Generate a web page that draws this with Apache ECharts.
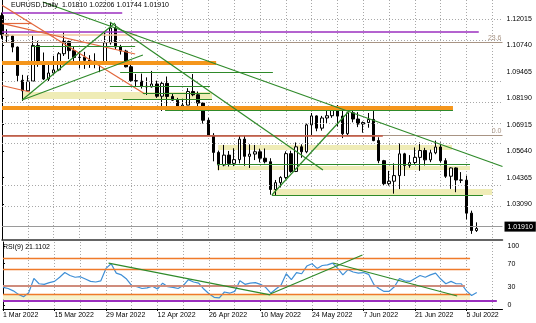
<!DOCTYPE html>
<html><head><meta charset="utf-8">
<script src="https://cdn.jsdelivr.net/npm/echarts@6/dist/echarts.min.js"></script>
<style>html,body{margin:0;padding:0;background:#fff}#c{width:536px;height:323px}</style>
</head><body><div id="c"></div>
<script>
// ---- categories (daily bars, EURUSD) ----
const dates = ['1 Mar 2022','2 Mar 2022','3 Mar 2022','4 Mar 2022','7 Mar 2022','8 Mar 2022','9 Mar 2022','10 Mar 2022','11 Mar 2022',
'14 Mar 2022','15 Mar 2022','16 Mar 2022','17 Mar 2022','18 Mar 2022','21 Mar 2022','22 Mar 2022','23 Mar 2022','24 Mar 2022','25 Mar 2022',
'28 Mar 2022','29 Mar 2022','30 Mar 2022','31 Mar 2022','1 Apr 2022','4 Apr 2022','5 Apr 2022','6 Apr 2022','7 Apr 2022','8 Apr 2022',
'11 Apr 2022','12 Apr 2022','13 Apr 2022','14 Apr 2022','15 Apr 2022','18 Apr 2022','19 Apr 2022','20 Apr 2022','21 Apr 2022','22 Apr 2022',
'25 Apr 2022','26 Apr 2022','27 Apr 2022','28 Apr 2022','29 Apr 2022','2 May 2022','3 May 2022','4 May 2022','5 May 2022','6 May 2022',
'9 May 2022','10 May 2022','11 May 2022','12 May 2022','13 May 2022','16 May 2022','17 May 2022','18 May 2022','19 May 2022','20 May 2022',
'23 May 2022','24 May 2022','25 May 2022','26 May 2022','27 May 2022','30 May 2022','31 May 2022','1 Jun 2022','2 Jun 2022','3 Jun 2022',
'6 Jun 2022','7 Jun 2022','8 Jun 2022','9 Jun 2022','10 Jun 2022','13 Jun 2022','14 Jun 2022','15 Jun 2022','16 Jun 2022','17 Jun 2022',
'20 Jun 2022','21 Jun 2022','22 Jun 2022','23 Jun 2022','24 Jun 2022','27 Jun 2022','28 Jun 2022','29 Jun 2022','30 Jun 2022','1 Jul 2022',
'4 Jul 2022','5 Jul 2022','6 Jul 2022','7 Jul 2022','8 Jul 2022','11 Jul 2022','12 Jul 2022','13 Jul 2022','14 Jul 2022'];

// ---- OHLC ----
const open = [1.1218,1.1126,1.1120,1.1066,1.0906,1.0855,1.0902,1.1074,1.0984,1.0912,1.0941,1.0956,1.1034,1.1093,1.1049,1.1016,1.1017,1.1002,1.0998,1.0982,
1.0985,1.1087,1.1158,1.1067,1.1047,1.0971,1.0904,1.0902,1.0877,1.0874,1.0888,1.0829,1.0891,1.0828,1.0810,1.0779,1.0786,1.0852,1.0836,1.0796,
1.0713,1.0640,1.0558,1.0497,1.0545,1.0505,1.0523,1.0622,1.0539,1.0550,1.0561,1.0530,1.0513,1.0379,1.0412,1.0437,1.0552,1.0466,1.0585,1.0561,
1.0691,1.0734,1.0675,1.0724,1.0735,1.0780,1.0733,1.0648,1.0749,1.0719,1.0695,1.0702,1.0717,1.0615,1.0518,1.0407,1.0419,1.0446,1.0551,1.0495,
1.0509,1.0534,1.0567,1.0522,1.0556,1.0584,1.0518,1.0443,1.0483,1.0425,1.0424,1.0265,1.01810];
const high = [1.1233,1.1152,1.1124,1.1069,1.0932,1.0929,1.1121,1.1096,1.1040,1.0991,1.1024,1.1042,1.1137,1.1094,1.1069,1.1045,1.1043,1.1027,1.1036,1.0998,
1.1137,1.1185,1.1176,1.1077,1.1053,1.0998,1.0936,1.0938,1.0920,1.0951,1.0904,1.0899,1.0924,1.0840,1.0821,1.0817,1.0868,1.0936,1.0852,1.0798,
1.0725,1.0651,1.0567,1.0594,1.0565,1.0578,1.0641,1.0642,1.0597,1.0594,1.0576,1.0577,1.0530,1.0425,1.0443,1.0563,1.0566,1.0606,1.0597,1.0697,
1.0748,1.0737,1.0734,1.0765,1.0787,1.0786,1.0766,1.0750,1.0764,1.0752,1.0707,1.0748,1.0774,1.0631,1.0522,1.0469,1.0505,1.0601,1.0556,1.0545,
1.0582,1.0606,1.0580,1.0571,1.0615,1.0606,1.0530,1.0486,1.0486,1.0463,1.0446,1.0277,1.02206];
const low = [1.1106,1.1087,1.1041,1.0900,1.0806,1.0850,1.0899,1.0971,1.0907,1.0902,1.0932,1.0950,1.1023,1.1008,1.0997,1.0963,1.0961,1.0966,1.0964,1.0945,
1.0985,1.1078,1.1055,1.1030,1.0968,1.0899,1.0874,1.0866,1.0835,1.0871,1.0821,1.0758,1.0758,1.0806,1.0761,1.0757,1.0786,1.0829,1.0772,1.0697,
1.0637,1.0515,1.0472,1.0491,1.0490,1.0492,1.0505,1.0493,1.0483,1.0521,1.0510,1.0505,1.0354,1.0349,1.0389,1.0430,1.0460,1.0463,1.0532,1.0554,
1.0642,1.0660,1.0663,1.0700,1.0725,1.0683,1.0627,1.0642,1.0703,1.0680,1.0653,1.0677,1.0612,1.0506,1.0397,1.0398,1.0359,1.0381,1.0444,1.0484,
1.0502,1.0469,1.0495,1.0511,1.0549,1.0509,1.0435,1.0382,1.0366,1.0410,1.0235,1.0165,1.01744];
const close = [1.1126,1.1120,1.1066,1.0929,1.0855,1.0902,1.1074,1.0984,1.0912,1.0941,1.0956,1.1034,1.1093,1.1049,1.1016,1.1017,1.1002,1.0998,1.0982,1.0985,
1.1087,1.1158,1.1067,1.1047,1.0971,1.0904,1.0902,1.0877,1.0874,1.0888,1.0829,1.0891,1.0828,1.0810,1.0779,1.0786,1.0852,1.0836,1.0796,1.0713,
1.0640,1.0558,1.0497,1.0545,1.0505,1.0523,1.0622,1.0539,1.0550,1.0561,1.0530,1.0513,1.0379,1.0412,1.0437,1.0552,1.0466,1.0585,1.0561,1.0691,
1.0734,1.0675,1.0724,1.0735,1.0780,1.0733,1.0648,1.0749,1.0719,1.0695,1.0702,1.0717,1.0615,1.0518,1.0407,1.0419,1.0446,1.0551,1.0495,1.0509,
1.0534,1.0567,1.0522,1.0556,1.0584,1.0518,1.0443,1.0483,1.0425,1.0424,1.0265,1.0181,1.01910];

// ---- RSI(9) ----
const rsi = [30,28,24,18,14,21,45,36,35,38,40,47,55,50,47,48,44,40,39,41,
62,70,54,51,44,33,31,28,29,32,27,37,31,30,28,33,43,39,37,27,
19,13,12,22,20,23,41,35,37,38,35,30,20,27,34,53,43,55,53,66,
70,62,67,68,71,62,51,60,56,54,55,52,35,28,23,23,31,45,41,40,
45,50,47,51,54,44,36,40,36,36,24,16,21.1102];

// ---- axis tick labels ----
const priceTicks = [1.03090,1.04365,1.05640,1.06915,1.08190,1.09465,1.10740,1.12015];
const rsiTicks = [0,30,70,100];
const lastPrice = 1.01910;

// ---- drawn objects: [barFrom, priceFrom, barTo, priceTo] ----
const greenLines = [[5.8,1.10679,25.8,1.10679],[22.9,1.09459,52.5,1.09459],[20.9,1.08750,40.3,1.08750],[27.3,1.08431,40.3,1.08431],
 [23.4,1.08142,40.7,1.08142],[31.6,1.07601,87.4,1.07601],[41.7,1.05006,90.7,1.05006],[52.3,1.03501,93.2,1.03501],
 [7.9,1.12836,97,1.04900],[3.9,1.08108,21.9,1.11822],[3.9,1.08108,27.3,1.10279],[20.9,1.11871,62.2,1.04731],[52.3,1.03525,67.1,1.07529]];
const orangeLines = [[0,1.09893,41.5,1.09893],[0,1.07722,87.4,1.07722]];
const redLines = [[0,1.12681,27.7,1.08398],[0,1.11803,25.8,1.10327],[0,1.11808,5.8,1.11808],[0,1.08808,5.4,1.08494]];
const purpleLines = [[0,1.12339,23.3,1.12339],[0,1.11403,92.4,1.11403]];
const peachLines = [[0,1.11244,26.2,1.11244]];
const brownLines = [[0,1.06386,73.8,1.06386]];
const fibLevels = [[1.10891,'23.6'],[1.06386,'0.0']];
const yellowZones = [[3.9,1.08494,40.7,1.08156],[41.9,1.05937,87.2,1.05696],[41.7,1.04924,90.7,1.04731],[52.5,1.03815,95,1.03525]];
// RSI window objects: [barFrom, rsiFrom, barTo, rsiTo]
const rsiOrange = [[0,80,90.7,80],[0,60,90.7,60],[0,19,90.7,19]];
const rsiBrown = [[0,32,89.7,32]];
const rsiPurple = [[0,7.3,95.9,7.3]];
const rsiGreen = [[20.5,71,51.9,17],[51.9,18.6,69.8,84.7],[64.1,71.2,88.2,15.3]];
const rsiZone = [[0,17.5,90.7,9]];

const FONT = '"Liberation Sans", Arial, sans-serif';
const GREEN='#2f8a2a', ORANGE='#f5961c', RED='#e2673c', PURPLE='#9b2fbf', PEACH='#f3c49a', BROWN='#c2503a', FIB='#a89484', YEL='#efecb6';
const seg = (arr, color, width) => arr.map(s => [{coord:[s[0],s[1]], lineStyle:{color:color,width:width,type:'solid'}},{coord:[s[2],s[3]]}]);
const zone = (arr) => arr.map(s => [{coord:[s[0],s[1]]},{coord:[s[2],s[3]]}]);
const candles = open.map((o,i)=>[o, close[i], low[i], high[i]]);
const grid0H = 240;
const dotted = {color:'#a8a8a8', type:[1,2], width:1};

const chart = echarts.init(document.getElementById('c'), null, {renderer:'canvas'});
chart.setOption({
  animation:false,
  backgroundColor:'#fff',
  textStyle:{fontFamily:FONT},
  title:[
    {text:'EURUSD,Daily  1.01810 1.02206 1.01744 1.01910', left:11, top:2, padding:0, textStyle:{fontSize:7, fontWeight:'normal', color:'#000', fontFamily:FONT}},
    {text:'RSI(9) 21.1102', left:3, top:244, padding:0, textStyle:{fontSize:7, fontWeight:'normal', color:'#000', fontFamily:FONT}}
  ],
  grid:[{left:2, top:0, width:500.5, height:grid0H},{left:2, top:242, width:500.5, height:67}],
  xAxis:[
    {type:'category', gridIndex:0, data:dates, boundaryGap:false,
     axisLine:{show:true, onZero:false, lineStyle:{color:'#333', width:1.5}}, axisTick:{show:false}, axisLabel:{show:false},
     splitLine:{show:true, interval:4, lineStyle:dotted}},
    {type:'category', gridIndex:1, data:dates, boundaryGap:false,
     axisLine:{show:true, onZero:false, lineStyle:{color:'#000', width:1}},
     axisTick:{show:true, interval:9, length:2, lineStyle:{color:'#000'}},
     axisLabel:{interval:9, fontSize:7, color:'#000', align:'left', margin:3, fontFamily:FONT},
     splitLine:{show:true, interval:4, lineStyle:dotted}},
    {type:'value', gridIndex:0, min:0, max:97, show:false},
    {type:'value', gridIndex:1, min:0, max:97, show:false}
  ],
  yAxis:[
    {type:'value', gridIndex:0, position:'right', min:1.01354, max:1.12932, scale:true,
     axisLine:{show:true, lineStyle:{color:'#000'}},
     axisTick:{show:true, length:2, customValues:priceTicks, lineStyle:{color:'#000'}},
     axisLabel:{customValues:priceTicks, formatter:v=>v.toFixed(5), fontSize:7, color:'#000', margin:4, fontFamily:FONT, hideOverlap:false},
     splitLine:{show:false}},
    {type:'value', gridIndex:1, position:'right', min:-6.8, max:106.8,
     axisLine:{show:true, lineStyle:{color:'#000'}},
     axisTick:{show:true, length:2, customValues:rsiTicks, lineStyle:{color:'#000'}},
     axisLabel:{customValues:rsiTicks, formatter:v=>String(v), fontSize:7, color:'#000', margin:5, fontFamily:FONT,
       hideOverlap:false, showMinLabel:true, showMaxLabel:true},
     splitLine:{show:false}}
  ],
  series:[
    {type:'line', xAxisIndex:2, yAxisIndex:0, data:[], z:0, silent:true,
     markLine:{silent:true, symbol:['none','none'], animation:false, label:{show:false}, lineStyle:dotted,
       data:priceTicks.map(v=>({yAxis:v, lineStyle:dotted}))}},
    {type:'line', xAxisIndex:2, yAxisIndex:0, data:[], z:1, silent:true,
     markArea:{silent:true, itemStyle:{color:YEL}, data:zone(yellowZones)}},
    {type:'line', xAxisIndex:3, yAxisIndex:1, data:[], z:1, silent:true,
     markArea:{silent:true, itemStyle:{color:'#f6f2cc'}, data:zone(rsiZone)}},
    {type:'candlestick', xAxisIndex:0, yAxisIndex:0, data:candles, barWidth:3, clip:false, z:3,
     itemStyle:{color:'#fff', color0:'#000', borderColor:'#000', borderColor0:'#000', borderWidth:1}},
    {type:'line', xAxisIndex:2, yAxisIndex:0, data:[], z:5, silent:true,
     markLine:{silent:true, symbol:['none','none'], animation:false, label:{show:false},
       data:[].concat(
         seg(peachLines, PEACH, 1.5),
         fibLevels.map(f=>[{coord:[0,f[0]], lineStyle:{color:FIB,width:1,type:'solid'},
             label:{show:true, position:'insideEndTop', formatter:f[1], color:FIB, fontSize:7, distance:1, fontFamily:FONT}},{coord:[97,f[0]]}]),
         seg(brownLines, BROWN, 1.6),
         seg(purpleLines, PURPLE, 1.5),
         seg(redLines, RED, 1.2),
         seg(orangeLines, ORANGE, 4),
         seg(greenLines, GREEN, 1.2),
         [{yAxis:lastPrice, lineStyle:{color:'#9a9a9a', width:1, type:'solid'},
           label:{show:true, position:'end', formatter:lastPrice.toFixed(5), color:'#fff', backgroundColor:'#000', padding:[2,3,1,3], fontSize:7, distance:2, fontFamily:FONT}}]
       )}},
    {type:'line', xAxisIndex:1, yAxisIndex:1, data:rsi, z:3, symbol:'none', silent:true,
     lineStyle:{color:'#3f8fd6', width:1.2}},
    {type:'line', xAxisIndex:3, yAxisIndex:1, data:[], z:4, silent:true,
     markLine:{silent:true, symbol:['none','none'], animation:false, label:{show:false},
       data:[].concat(seg(rsiOrange, '#ef7a2a', 1.3), seg(rsiBrown, '#cf8c7c', 2), seg(rsiPurple, PURPLE, 2), seg(rsiGreen, GREEN, 1.2))}}
  ]
});
</script></body></html>
